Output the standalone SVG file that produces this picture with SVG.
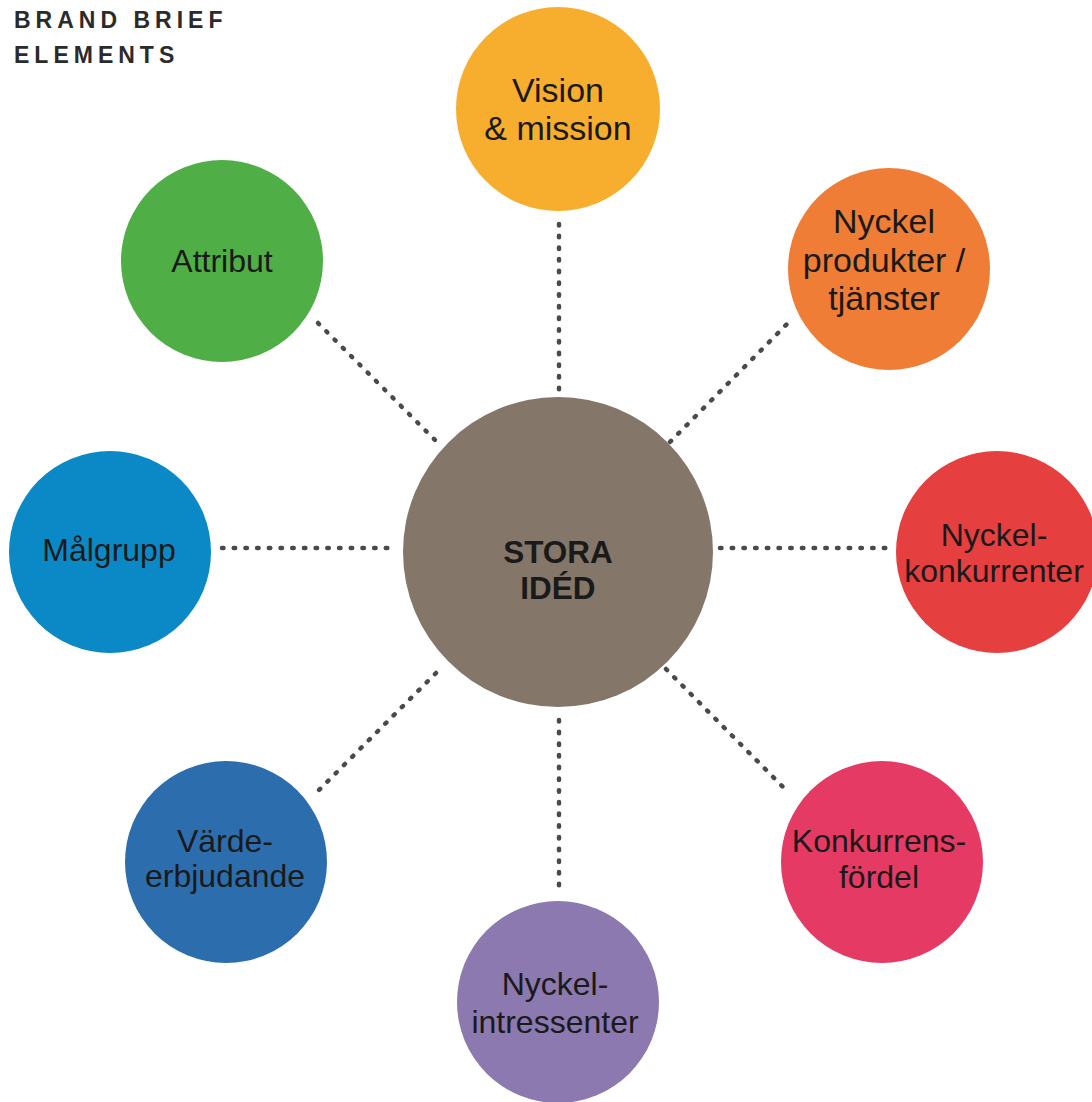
<svg xmlns="http://www.w3.org/2000/svg" width="1092" height="1102" viewBox="0 0 1092 1102">
<style>
.lbl{font-family:"Liberation Sans",Arial,sans-serif;font-size:32px;fill:#1a1a1a;text-anchor:middle}
.big{font-size:34px}
.ctr{font-family:"Liberation Sans",Arial,sans-serif;font-size:31.5px;font-weight:bold;fill:#1a1a1a;text-anchor:middle}
.title{font-family:"Liberation Sans",Arial,sans-serif;font-size:23px;font-weight:bold;fill:#2b2b2b;letter-spacing:5px}
.conn line{stroke:#4a4a4a;stroke-width:4.5;stroke-linecap:round;stroke-dasharray:1.5 10.2;fill:none}
</style>
<rect width="1092" height="1102" fill="#ffffff"/>
<g id="title">
<text class="title" x="14" y="28">BRAND BRIEF</text>
<text class="title" x="14" y="63">ELEMENTS</text>
</g>
<g id="connectors" class="conn">
<line x1="559" y1="224" x2="559" y2="392"/>
<line x1="559" y1="720" x2="559" y2="886"/>
<line x1="222" y1="548" x2="388" y2="548"/>
<line x1="720" y1="548" x2="888" y2="548"/>
<line x1="318" y1="323" x2="436" y2="441"/>
<line x1="670" y1="442" x2="789" y2="322"/>
<line x1="436" y1="673" x2="318" y2="791"/>
<line x1="666" y1="669" x2="783" y2="787"/>
</g>
<g id="center">
<circle cx="558" cy="552" r="155" fill="#84776A"/>
<text class="ctr" x="558" y="563">STORA</text>
<text class="ctr" x="558" y="599">IDÉD</text>
</g>
<g id="vision">
<circle cx="558" cy="109" r="102" fill="#F7AE2E"/>
<text class="lbl big" x="558" y="102">Vision</text>
<text class="lbl big" x="558" y="140">&amp; mission</text>
</g>
<g id="nyckelprodukter">
<circle cx="889" cy="269" r="101" fill="#EF7D36"/>
<text class="lbl big" x="884" y="233">Nyckel</text>
<text class="lbl big" x="884" y="272">produkter /</text>
<text class="lbl big" x="884" y="310">tjänster</text>
</g>
<g id="nyckelkonkurrenter">
<circle cx="997" cy="552" r="101" fill="#E53F3F"/>
<text class="lbl" x="994" y="546">Nyckel-</text>
<text class="lbl" x="994" y="582">konkurrenter</text>
</g>
<g id="konkurrensfordel">
<circle cx="882" cy="862" r="101" fill="#E43A64"/>
<text class="lbl" x="879" y="852">Konkurrens-</text>
<text class="lbl" x="879" y="888">fördel</text>
</g>
<g id="nyckelintressenter">
<circle cx="558" cy="1002" r="101" fill="#8B79AF"/>
<text class="lbl" x="555" y="995">Nyckel-</text>
<text class="lbl" x="555" y="1033">intressenter</text>
</g>
<g id="vardeerbjudande">
<circle cx="226" cy="862" r="101" fill="#2C6EAD"/>
<text class="lbl" x="225" y="852">Värde-</text>
<text class="lbl" x="225" y="887">erbjudande</text>
</g>
<g id="malgrupp">
<circle cx="110" cy="552" r="101" fill="#0A89C6"/>
<text class="lbl" x="109" y="561">Målgrupp</text>
</g>
<g id="attribut">
<circle cx="222" cy="261" r="101" fill="#4FAE45"/>
<text class="lbl" x="222" y="272">Attribut</text>
</g>
</svg>
